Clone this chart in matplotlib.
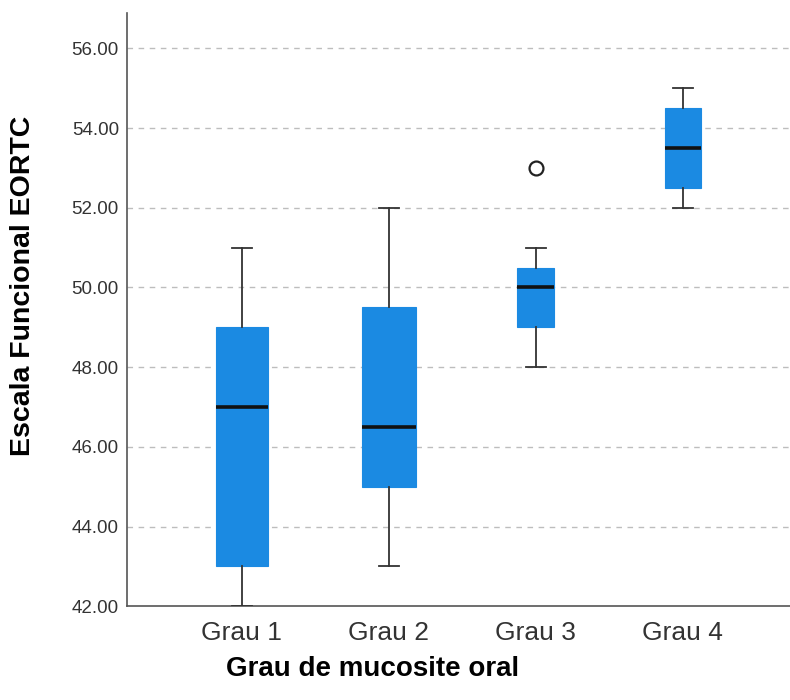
import matplotlib
matplotlib.use("Agg")
import matplotlib.pyplot as plt

plt.rcParams["font.family"] = ["Liberation Sans", "DejaVu Sans"]

# dados (boxplot SPSS)
categorias = ["Grau 1", "Grau 2", "Grau 3", "Grau 4"]
whisker_low = [42.0, 43.0, 48.0, 52.0]
q1 = [43.0, 45.0, 49.0, 52.5]
mediana = [47.0, 46.5, 50.0, 53.5]
q3 = [49.0, 49.5, 50.5, 54.5]
whisker_high = [51.0, 52.0, 51.0, 55.0]
outliers = [[], [], [53.0], []]
larguras = [0.35, 0.37, 0.25, 0.245]

y_ticks = [42, 44, 46, 48, 50, 52, 54, 56]

stats = []
for i, nome in enumerate(categorias):
    stats.append({
        "label": nome,
        "whislo": whisker_low[i],
        "q1": q1[i],
        "med": mediana[i],
        "q3": q3[i],
        "whishi": whisker_high[i],
        "fliers": outliers[i],
    })

fig = plt.figure(figsize=(7.9, 7.0), dpi=100)
ax = fig.add_axes([0.161, 0.134, 0.839, 0.847])

for y in y_ticks[1:]:
    ax.axhline(y, color="#bdbdbd", lw=1.0, ls=(0, (4, 4)), zorder=0)

ax.bxp(
    stats,
    positions=[1, 2, 3, 4],
    widths=larguras,
    capwidths=0.136,
    patch_artist=True,
    boxprops=dict(facecolor="#1b8ae2", edgecolor="#1b8ae2", lw=0.8),
    medianprops=dict(color="#111111", lw=2.6),
    whiskerprops=dict(color="#333333", lw=1.3),
    capprops=dict(color="#333333", lw=1.3),
    flierprops=dict(marker="o", markerfacecolor="white", markeredgecolor="#222222",
                    markersize=10, markeredgewidth=1.6),
    zorder=3,
)

ax.set_xlim(0.22, 4.73)
ax.set_ylim(42, 56.88)
ax.set_yticks(y_ticks)
ax.set_yticklabels([f"{v:.2f}" for v in y_ticks])
ax.set_xticks([1, 2, 3, 4])
ax.set_xticklabels(categorias)

ax.tick_params(axis="y", length=0, pad=6, labelsize=13.5, labelcolor="#333333")
ax.tick_params(axis="x", length=0, pad=11, labelsize=19, labelcolor="#333333")

for s in ["top", "right"]:
    ax.spines[s].set_visible(False)
for s in ["left", "bottom"]:
    ax.spines[s].set_color("#555555")
    ax.spines[s].set_linewidth(1.2)

fig.text(0.472, 0.045, "Grau de mucosite oral", ha="center", va="center",
         fontsize=20, fontweight="bold")
fig.text(0.029, 0.592, "Escala Funcional EORTC", ha="center", va="center",
         rotation=90, fontsize=20.5, fontweight="bold")

fig.savefig("out.png", dpi=100)
